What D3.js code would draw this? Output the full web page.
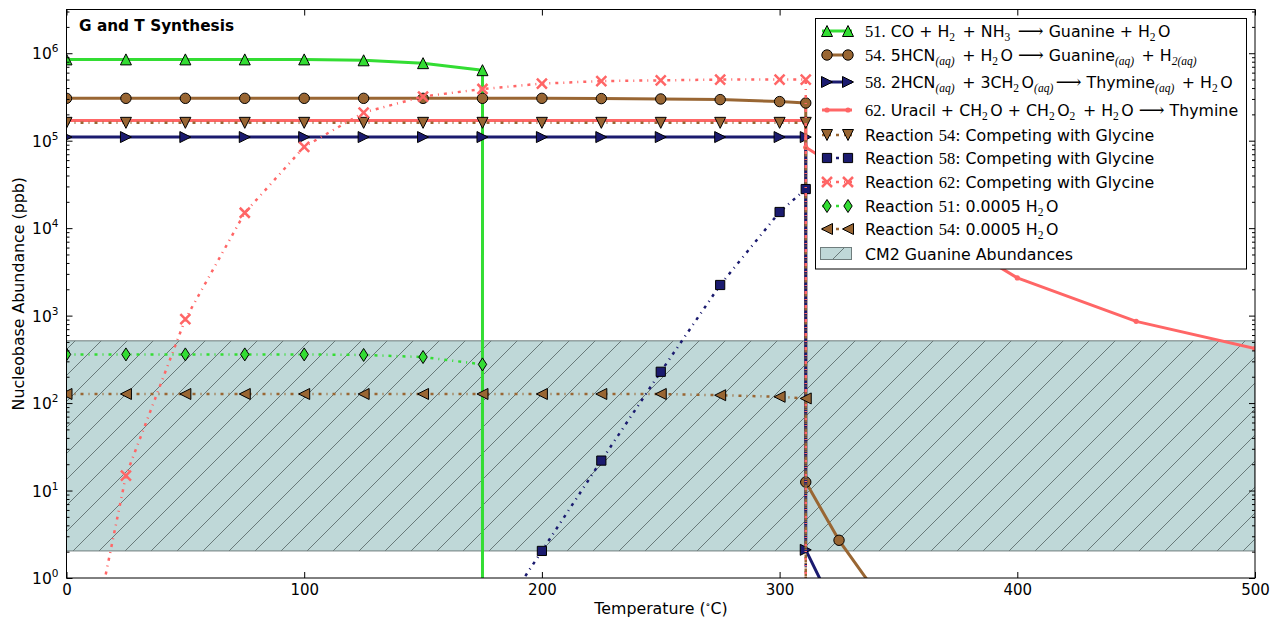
<!DOCTYPE html>
<html>
<head>
<meta charset="utf-8">
<script src="https://cdn.jsdelivr.net/npm/d3@7"></script>
<style>
    body { margin: 0; background: #fff; }
    svg { font-family: "DejaVu Sans", sans-serif; }
</style>
</head>
<body>
<div id="chart"></div>
<script>
(function() {

    var width = 1271;
    var height = 618;

    // temperatures (C) and abundances (ppb)
    var r51T = [0, 25, 50, 75, 100, 125, 150, 175, 175];
    var r51V = [8.5e5, 8.5e5, 8.5e5, 8.5e5, 8.5e5, 8.3e5, 7.7e5, 6.4e5, 1e-3];

    var r54T = [0, 25, 50, 75, 100, 125, 150, 175, 200, 225, 250, 275, 300, 311, 311, 325, 350];
    var r54V = [3.05e5, 3.05e5, 3.05e5, 3.05e5, 3.05e5, 3.05e5, 3.05e5, 3.05e5, 3.05e5, 3.03e5, 3.0e5, 2.95e5, 2.8e5, 2.7e5, 12.5, 2.7, 0.3];

    var r58T = [0, 25, 50, 75, 100, 125, 150, 175, 200, 225, 250, 275, 300, 311, 311, 325];
    var r58V = [1.1e5, 1.1e5, 1.1e5, 1.1e5, 1.1e5, 1.1e5, 1.1e5, 1.1e5, 1.1e5, 1.1e5, 1.1e5, 1.1e5, 1.1e5, 1.1e5, 2.1, 0.35];

    var r62T = [0, 25, 50, 75, 100, 125, 150, 175, 200, 225, 250, 275, 300, 311, 311, 350, 400, 450, 500];
    var r62V = [1.7e5, 1.7e5, 1.7e5, 1.7e5, 1.7e5, 1.7e5, 1.7e5, 1.7e5, 1.7e5, 1.7e5, 1.7e5, 1.7e5, 1.7e5, 1.7e5, 8.4e4, 1.8e4, 2.7e3, 860, 420];

    var comp54T = [0, 25, 50, 75, 100, 125, 150, 175, 200, 225, 250, 275, 300, 311, 311];
    var comp54V = [1.6e5, 1.6e5, 1.6e5, 1.6e5, 1.6e5, 1.6e5, 1.6e5, 1.6e5, 1.6e5, 1.6e5, 1.6e5, 1.6e5, 1.6e5, 1.6e5, 1e-3];

    var comp58T = [150, 175, 200, 225, 250, 275, 300, 311, 311];
    var comp58V = [0.02, 0.19, 2.04, 22, 228, 2240, 1.53e4, 2.8e4, 1e-3];

    var comp62T = [0, 25, 50, 75, 100, 125, 150, 175, 200, 225, 250, 275, 300, 311, 311];
    var comp62V = [0.007, 14.8, 912, 1.5e4, 8.5e4, 2.1e5, 3.2e5, 3.9e5, 4.5e5, 4.8e5, 4.9e5, 5.0e5, 5.0e5, 5.0e5, 1e-3];

    var h2o51T = [0, 25, 50, 75, 100, 125, 150, 175, 175];
    var h2o51V = [360, 360, 360, 360, 360, 355, 336, 277, 1e-3];

    var h2o54T = [0, 25, 50, 75, 100, 125, 150, 175, 200, 225, 250, 275, 300, 311, 311];
    var h2o54V = [127, 127, 127, 127, 127, 127, 127, 127, 127, 127, 127, 123, 118, 113, 1e-3];

    var cm2Range = [2.04, 515];

    var xTicks = [0, 100, 200, 300, 400, 500];
    var yExponents = [0, 1, 2, 3, 4, 5, 6];

    var labels = [
        "$51.$ CO + H_{2} + NH_{3} $\u27F6$ Guanine + H_{2}O",
        "$54.$ 5HCN_{(aq)} + H_{2}O $\u27F6$ Guanine_{(aq)} + H_{2(aq)}",
        "$58.$ 2HCN_{(aq)} + 3CH_{2}O_{(aq)}$\u27F6$ Thymine_{(aq)} + H_{2}O",
        "$62.$ Uracil + CH_{2}O + CH_{2}O_{2} + H_{2}O $\u27F6$ Thymine",
        "Reaction $54$: Competing with Glycine",
        "Reaction $58$: Competing with Glycine",
        "Reaction $62$: Competing with Glycine",
        "Reaction $51$: 0.0005 H_{2}O",
        "Reaction $54$: 0.0005 H_{2}O",
        "CM2 Guanine Abundances"
    ];

    var green = "#33dd33", brown = "#996633", navy = "#1b1b6f", salmon = "#ff6666";
    var bandFill = "#bfd8d8";
    var serif = "'Liberation Serif', 'DejaVu Serif', serif";
    var dashdot = "3,5,1,5";

    var series = [
        {t: r51T, v: r51V, color: green, w: 3, dash: null, marker: "^"},
        {t: r54T, v: r54V, color: brown, w: 3, dash: null, marker: "o"},
        {t: r58T, v: r58V, color: navy, w: 3, dash: null, marker: ">"},
        {t: r62T, v: r62V, color: salmon, w: 3, dash: null, marker: "."},
        {t: comp54T, v: comp54V, color: brown, w: 2.5, dash: dashdot, marker: "v"},
        {t: comp58T, v: comp58V, color: navy, w: 2.5, dash: dashdot, marker: "s"},
        {t: comp62T, v: comp62V, color: salmon, w: 2.5, dash: dashdot, marker: "x"},
        {t: h2o51T, v: h2o51V, color: green, w: 2.5, dash: dashdot, marker: "d"},
        {t: h2o54T, v: h2o54V, color: brown, w: 2.5, dash: dashdot, marker: "<"}
    ];

    var left = 66.5, right = 1255, top = 9.5, bottom = 578;

    var x = d3.scaleLinear().domain([0, 500]).range([left, right]);
    var y = d3.scaleLog().domain([1, Math.pow(10, 6.5)]).range([bottom, top]);

    var svg = d3.select("#chart")
        .append("svg")
        .attr("width", width)
        .attr("height", height);

    var defs = svg.append("defs");
    defs.append("clipPath").attr("id", "plotclip")
        .append("rect")
        .attr("x", left).attr("y", top)
        .attr("width", right - left).attr("height", bottom - top);

    var hs = 26;
    var pat = defs.append("pattern").attr("id", "hatch")
        .attr("patternUnits", "userSpaceOnUse")
        .attr("width", hs).attr("height", hs);
    pat.append("path")
        .attr("d", "M0," + hs + "L" + hs + ",0M" + (-hs / 2) + "," + (hs / 2) + "L" + (hs / 2) + "," + (-hs / 2) +
            "M" + (hs / 2) + "," + (hs * 1.5) + "L" + (hs * 1.5) + "," + (hs / 2))
        .attr("stroke", "#5f6e6e")
        .attr("stroke-width", 0.9)
        .attr("fill", "none");

    function markerPath(type) {
        var r = 5.5;
        if (type === "^") return "M0," + (-r) + "L" + r + "," + r + "L" + (-r) + "," + r + "Z";
        if (type === "v") return "M0," + r + "L" + r + "," + (-r) + "L" + (-r) + "," + (-r) + "Z";
        if (type === ">") return "M" + r + ",0L" + (-r) + "," + (-r) + "L" + (-r) + "," + r + "Z";
        if (type === "<") return "M" + (-r) + ",0L" + r + "," + (-r) + "L" + r + "," + r + "Z";
        if (type === "s") return "M-4.6,-4.6H4.6V4.6H-4.6Z";
        if (type === "d") return "M0,-6.5L4.2,0L0,6.5L-4.2,0Z";
        if (type === "x") return "M-5,-5L5,5M-5,5L5,-5";
        return null;
    }

    function drawMarker(g, type, color, px, py) {
        if (type === "o") {
            g.append("circle").attr("cx", px).attr("cy", py).attr("r", 5.2)
                .attr("fill", color).attr("stroke", "#000").attr("stroke-width", 1);
        } else if (type === ".") {
            g.append("circle").attr("cx", px).attr("cy", py).attr("r", 2.6)
                .attr("fill", color);
        } else if (type === "x") {
            g.append("path").attr("transform", "translate(" + px + "," + py + ")")
                .attr("d", markerPath(type)).attr("fill", "none")
                .attr("stroke", color).attr("stroke-width", 2.5);
        } else {
            g.append("path").attr("transform", "translate(" + px + "," + py + ")")
                .attr("d", markerPath(type))
                .attr("fill", color).attr("stroke", "#000").attr("stroke-width", 1);
        }
    }

    var plot = svg.append("g").attr("clip-path", "url(#plotclip)");

    // CM2 band
    plot.append("rect")
        .attr("x", x(0)).attr("y", y(cm2Range[1]))
        .attr("width", x(500) - x(0)).attr("height", y(cm2Range[0]) - y(cm2Range[1]))
        .attr("fill", bandFill);
    plot.append("rect")
        .attr("x", x(0)).attr("y", y(cm2Range[1]))
        .attr("width", x(500) - x(0)).attr("height", y(cm2Range[0]) - y(cm2Range[1]))
        .attr("fill", "url(#hatch)")
        .attr("stroke", "#6f7d7d").attr("stroke-width", 1);

    var line = d3.line()
        .x(function (d) { return x(d[0]); })
        .y(function (d) { return y(d[1]); });

    series.forEach(function (s) {
        var pts = s.t.map(function (t, i) { return [t, s.v[i]]; });
        plot.append("path")
            .datum(pts)
            .attr("d", line)
            .attr("fill", "none")
            .attr("stroke", s.color)
            .attr("stroke-width", s.w)
            .attr("stroke-dasharray", s.dash)
            .attr("stroke-linejoin", "round");
        var mg = plot.append("g");
        pts.forEach(function (p) {
            if (y(p[1]) > bottom + 10) return;
            drawMarker(mg, s.marker, s.color, x(p[0]), y(p[1]));
        });
    });

    // axes, ticks pointing inward on all four sides
    var yMinor = [];
    yExponents.forEach(function (e) {
        for (var k = 2; k <= 9; k++) {
            if (k * Math.pow(10, e) < Math.pow(10, 6.5)) yMinor.push(k * Math.pow(10, e));
        }
    });
    var yMajor = yExponents.map(function (e) { return Math.pow(10, e); });

    function styleAxis(g) {
        g.select(".domain").remove();
        g.selectAll(".tick line").attr("stroke", "#000");
        g.attr("font-size", 15).attr("font-family", "DejaVu Sans");
        g.selectAll("text").attr("fill", "#000");
    }

    svg.append("g").attr("transform", "translate(0," + bottom + ")")
        .call(d3.axisBottom(x).tickValues(xTicks).tickSize(-6).tickSizeOuter(0).tickPadding(6).tickFormat(d3.format("d")))
        .call(styleAxis);
    svg.append("g").attr("transform", "translate(0," + top + ")")
        .call(d3.axisTop(x).tickValues(xTicks).tickSize(-6).tickSizeOuter(0).tickFormat(""))
        .call(styleAxis);

    var yAxisG = svg.append("g").attr("transform", "translate(" + left + ",0)")
        .call(d3.axisLeft(y).tickValues(yMajor).tickSize(-6).tickSizeOuter(0).tickPadding(8).tickFormat(""))
        .call(styleAxis);
    yAxisG.selectAll(".tick text").each(function (d) {
        var t = d3.select(this);
        t.attr("dy", null).attr("y", 5.5).attr("font-size", 15.5);
        t.append("tspan").text("10");
        t.append("tspan").attr("dy", -7).attr("font-size", 10.5).text(Math.round(Math.log10(d)));
    });
    svg.append("g").attr("transform", "translate(" + left + ",0)")
        .call(d3.axisLeft(y).tickValues(yMinor).tickSize(-3).tickSizeOuter(0).tickFormat(""))
        .call(styleAxis);
    svg.append("g").attr("transform", "translate(" + right + ",0)")
        .call(d3.axisRight(y).tickValues(yMajor).tickSize(-6).tickSizeOuter(0).tickFormat(""))
        .call(styleAxis);
    svg.append("g").attr("transform", "translate(" + right + ",0)")
        .call(d3.axisRight(y).tickValues(yMinor).tickSize(-3).tickSizeOuter(0).tickFormat(""))
        .call(styleAxis);

    svg.append("rect")
        .attr("x", left).attr("y", top)
        .attr("width", right - left).attr("height", bottom - top)
        .attr("fill", "none").attr("stroke", "#000").attr("stroke-width", 1);

    // title and axis labels
    svg.append("text").attr("x", 79).attr("y", 31)
        .attr("font-size", 15.3).attr("font-weight", "bold").text("G and T Synthesis");

    var xl = svg.append("text").attr("x", 661).attr("y", 614)
        .attr("text-anchor", "middle").attr("font-size", 15.8);
    xl.append("tspan").text("Temperature (");
    xl.append("tspan").attr("dy", -6).attr("font-size", 10).attr("font-family", serif).text("\u2218");
    xl.append("tspan").attr("dy", 6).text("C)");

    svg.append("text")
        .attr("transform", "translate(24," + ((top + bottom) / 2) + ") rotate(-90)")
        .attr("text-anchor", "middle").attr("font-size", 15.8)
        .text("Nucleobase Abundance (ppb)");

    // rich legend labels: $..$ = math serif, _{..} = subscript
    function richText(sel, markup) {
        var parts = markup.split(/(\$[^$]*\$|_\{[^}]*\})/);
        var offset = 0;
        var gap = 0;
        parts.forEach(function (p) {
            if (!p) return;
            var ts = sel.append("tspan");
            if (gap) ts.attr("dx", gap);
            gap = 0;
            if (p.charAt(0) === "$") {
                var inner = p.slice(1, -1);
                ts.attr("dy", -offset).attr("font-family", serif)
                    .attr("font-size", inner === "\u27F6" ? 18 : 16.5).text(inner);
                offset = 0;
            } else if (p.charAt(0) === "_") {
                var sub = p.slice(2, -1);
                ts.attr("dy", 4 - offset).attr("font-family", serif).attr("font-size", 11.5)
                    .attr("font-style", /[a-z]/.test(sub) ? "italic" : null).text(sub);
                offset = 4;
                gap = 2.5;
            } else {
                ts.attr("dy", -offset).text(p);
                offset = 0;
            }
        });
    }

    var legendRowY = [31, 55, 82, 110, 135, 158, 182, 206, 229, 254];
    var legend = svg.append("g");
    legend.append("rect")
        .attr("x", 815.5).attr("y", 18.5).attr("width", 431).attr("height", 250.5)
        .attr("fill", "#fff").attr("stroke", "#000").attr("stroke-width", 1);

    series.forEach(function (s, i) {
        var ly = legendRowY[i];
        legend.append("line")
            .attr("x1", 822).attr("x2", 852).attr("y1", ly).attr("y2", ly)
            .attr("stroke", s.color).attr("stroke-width", s.w)
            .attr("stroke-dasharray", s.dash);
        drawMarker(legend, s.marker, s.color, 827, ly);
        drawMarker(legend, s.marker, s.color, 848, ly);
    });
    var ply = legendRowY[9];
    legend.append("rect").attr("x", 820.5).attr("y", ply - 6.5).attr("width", 31).attr("height", 12)
        .attr("fill", bandFill);
    legend.append("rect").attr("x", 820.5).attr("y", ply - 6.5).attr("width", 31).attr("height", 12)
        .attr("fill", "url(#hatch)").attr("stroke", "#6f7d7d");

    labels.forEach(function (lab, i) {
        var t = legend.append("text")
            .attr("x", 865).attr("y", legendRowY[i] + 5.5)
            .attr("font-size", 15.8);
        richText(t, lab);
    });

})();
</script>
</body>
</html>
